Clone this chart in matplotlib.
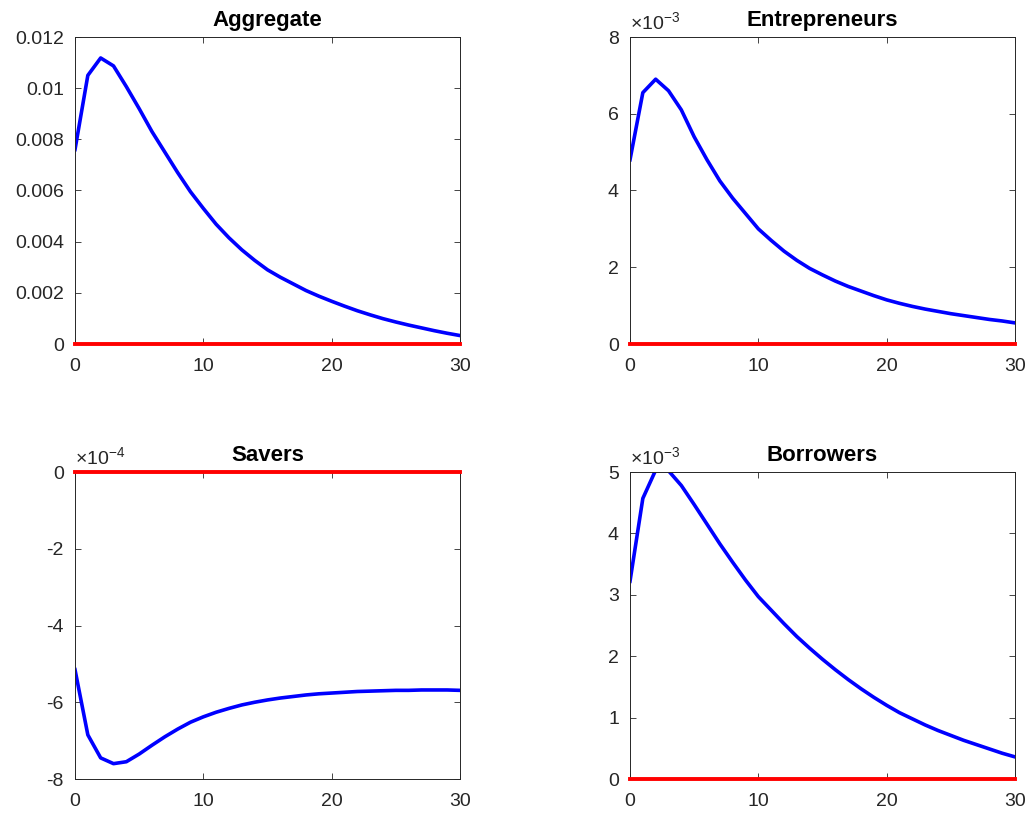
import numpy as np
import matplotlib
matplotlib.use("Agg")
import matplotlib.pyplot as plt
from matplotlib.ticker import FuncFormatter

plt.rcParams['font.family'] = ['Liberation Sans', 'DejaVu Sans']
plt.rcParams['mathtext.fontset'] = 'custom'
plt.rcParams['mathtext.rm'] = 'Liberation Sans'

t = np.arange(31)

aggregate = [0.0076, 0.0105, 0.01118, 0.01087, 0.01006, 0.0092, 0.0083, 0.0075,
             0.0067, 0.00595, 0.0053, 0.00468, 0.00415, 0.00368, 0.00327, 0.0029,
             0.00261, 0.00235, 0.00209, 0.00187, 0.00167, 0.00148, 0.0013,
             0.00114, 0.00099, 0.00086, 0.00074, 0.00063, 0.00052, 0.00042, 0.00033]

entrepreneurs = [4.8, 6.55, 6.9, 6.6, 6.1, 5.4, 4.8, 4.25, 3.8, 3.4, 3.0,
                 2.7, 2.42, 2.18, 1.97, 1.8, 1.64, 1.5, 1.38, 1.26, 1.15,
                 1.06, 0.98, 0.91, 0.85, 0.79, 0.74, 0.69, 0.64, 0.6, 0.55]
entrepreneurs = [v * 1e-3 for v in entrepreneurs]

savers = [-5.15, -6.85, -7.45, -7.6, -7.55, -7.35, -7.12, -6.9, -6.7, -6.52,
          -6.38, -6.26, -6.16, -6.07, -6.0, -5.94, -5.89, -5.85, -5.81, -5.78,
          -5.76, -5.74, -5.72, -5.71, -5.70, -5.69, -5.69, -5.68, -5.68,
          -5.68, -5.69]
savers = [v * 1e-4 for v in savers]

borrowers = [3.22, 4.57, 5.03, 5.02, 4.78, 4.47, 4.15, 3.83, 3.53, 3.24,
             2.97, 2.75, 2.53, 2.32, 2.13, 1.95, 1.78, 1.62, 1.47, 1.33,
             1.2, 1.08, 0.98, 0.88, 0.79, 0.71, 0.63, 0.56, 0.49, 0.42, 0.36]
borrowers = [v * 1e-3 for v in borrowers]

panels = [
    ("Aggregate", aggregate, (0, 0.012), np.arange(0, 0.0121, 0.002), None),
    ("Entrepreneurs", entrepreneurs, (0, 8e-3), np.arange(0, 8.1e-3, 2e-3), -3),
    ("Savers", savers, (-8e-4, 0), np.arange(-8e-4, 0.1e-4, 2e-4), -4),
    ("Borrowers", borrowers, (0, 5e-3), np.arange(0, 5.1e-3, 1e-3), -3),
]

W, H = 1034, 821
positions = [(75, 37), (630, 37), (75, 472), (630, 472)]
aw, ah = 385, 307

fig = plt.figure(figsize=(W / 100, H / 100), dpi=100)
txt = '#262626'


def fmt(v, sc):
    r = round(v / sc, 6)
    if r == 0:
        r = 0.0
    return '%g' % r


for (title, y, ylim, yticks, expo), (px, py) in zip(panels, positions):
    ax = fig.add_axes([px / W, 1 - (py + ah) / H, aw / W, ah / H])
    ax.plot(t, y, color='#0000ff', lw=2.6)
    ax.plot(t, np.zeros_like(t), color='#ff0000', lw=2.8, clip_on=False, zorder=5)
    ax.set_xlim(0, 30)
    ax.set_ylim(*ylim)
    ax.set_xticks([0, 10, 20, 30])
    ax.set_yticks(yticks)
    sc = 1.0 if expo is None else 10.0 ** expo
    ax.yaxis.set_major_formatter(FuncFormatter(lambda v, p, sc=sc: fmt(v, sc)))
    if expo is not None:
        ax.text(0.0, 1.008, '\u00d710$^{%d}$' % expo, transform=ax.transAxes,
                ha='left', va='bottom', fontsize=14, color=txt)
    ax.tick_params(direction='in', top=True, right=True, length=4, width=0.6,
                   labelsize=14, colors=txt)
    ax.tick_params(axis='y', pad=8)
    ax.tick_params(axis='x', pad=10)
    for s in ax.spines.values():
        s.set_color('#262626')
        s.set_linewidth(0.7)
    ax.set_title(title, fontsize=16, fontweight='bold', color='black', pad=8)

fig.savefig('out.png', dpi=100)
